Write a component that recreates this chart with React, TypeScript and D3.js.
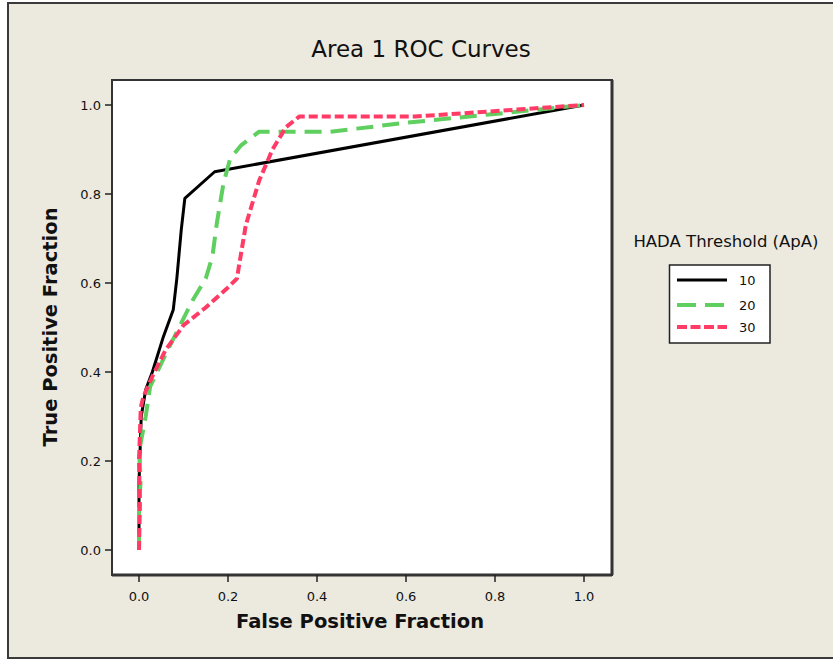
import React from "react";
import * as d3 from "d3";

const seriesNames = ["10", "20", "30"];
const colors = ["#000000", "#5fcf5f", "#ff3b66"];
const dashes = ["none", "17,9", "9,4"];
const widths = [3, 4, 4];

const fpr10 = [0, 0.0, 0.005, 0.015, 0.03, 0.055, 0.077, 0.085, 0.095, 0.103, 0.17, 1];
const tpr10 = [0.02, 0.15, 0.3, 0.36, 0.4, 0.48, 0.54, 0.61, 0.72, 0.79, 0.85, 1];

const fpr20 = [0, 0.0, 0.004, 0.0, 0.015, 0.025, 0.06, 0.09, 0.12, 0.15, 0.165, 0.175, 0.19, 0.205, 0.23, 0.27, 0.43, 0.6, 0.8, 1];
const tpr20 = [0, 0.1, 0.16, 0.22, 0.3, 0.367, 0.44, 0.5, 0.56, 0.61, 0.66, 0.735, 0.825, 0.88, 0.91, 0.94, 0.94, 0.96, 0.98, 1];

const fpr30 = [0, 0.002, 0.0, 0.004, 0.01, 0.03, 0.06, 0.1, 0.15, 0.2, 0.22, 0.24, 0.27, 0.3, 0.33, 0.36, 0.62, 1];
const tpr30 = [0, 0.1, 0.2, 0.32, 0.345, 0.39, 0.45, 0.505, 0.545, 0.59, 0.61, 0.73, 0.83, 0.9, 0.95, 0.974, 0.974, 1];

const xTicks = [0, 0.2, 0.4, 0.6, 0.8, 1.0];
const yTicks = [0, 0.2, 0.4, 0.6, 0.8, 1.0];

const title = "Area 1 ROC Curves";
const xLabel = "False Positive Fraction";
const yLabel = "True Positive Fraction";
const legendTitle = "HADA Threshold (ApA)";

export default function App() {
  const x = d3.scaleLinear().domain([0, 1]).range([139, 584]);
  const y = d3.scaleLinear().domain([0, 1]).range([550, 105]);
  const plot = { x0: 112, y0: 80, x1: 612, y1: 575 };
  const series = [
    fpr10.map((v, i) => [v, tpr10[i]]),
    fpr20.map((v, i) => [v, tpr20[i]]),
    fpr30.map((v, i) => [v, tpr30[i]]),
  ] as [number, number][][];
  const line = d3.line<[number, number]>().x((d) => x(d[0])).y((d) => y(d[1]));
  const font = "'DejaVu Sans', Tahoma, sans-serif";
  const fmt = d3.format(".1f");
  const legendYs = [280, 305, 327];

  return (
    <svg
      width={833}
      height={660}
      style={{ position: "absolute", left: 0, top: 0, background: "#ffffff" }}
      fontFamily={font}
    >
      <rect x={8} y={3} width={840} height={655} fill="#ece9df" stroke="#3a3a3a" strokeWidth={2} />
      <rect x={plot.x0} y={plot.y0} width={plot.x1 - plot.x0} height={plot.y1 - plot.y0} fill="#ffffff" stroke="#333" strokeWidth={2} />
      <line x1={plot.x1} x2={plot.x1} y1={plot.y0} y2={plot.y1} stroke="#333" strokeWidth={3} />
      <line x1={plot.x0} x2={plot.x1} y1={plot.y1} y2={plot.y1} stroke="#333" strokeWidth={3} />
      <text x={421} y={57} textAnchor="middle" fontSize={23} fill="#111">{title}</text>
      {xTicks.map((t) => (
        <g key={"x" + t}>
          <line x1={x(t)} x2={x(t)} y1={plot.y1} y2={plot.y1 + 7} stroke="#222" strokeWidth={1.5} />
          <text x={x(t)} y={601} textAnchor="middle" fontSize={13} fill="#111">{fmt(t)}</text>
        </g>
      ))}
      {yTicks.map((t) => (
        <g key={"y" + t}>
          <line x1={plot.x0} x2={plot.x0 - 7} y1={y(t)} y2={y(t)} stroke="#222" strokeWidth={1.5} />
          <text x={101} y={y(t) + 5} textAnchor="end" fontSize={13} fill="#111">{fmt(t)}</text>
        </g>
      ))}
      <text x={360} y={628} textAnchor="middle" fontSize={19.5} fontWeight="bold" fill="#111">{xLabel}</text>
      <text transform={`translate(57,327) rotate(-90)`} textAnchor="middle" fontSize={19.5} fontWeight="bold" fill="#111">{yLabel}</text>
      <g>
        {series.map((s, i) => (
          <path key={i} d={line(s) || ""} fill="none" stroke={colors[i]} strokeWidth={widths[i]} strokeDasharray={dashes[i]} strokeLinejoin="round" />
        ))}
      </g>
      <text x={726} y={247} textAnchor="middle" fontSize={16.5} fill="#111">{legendTitle}</text>
      <rect x={669.5} y={265} width={100.5} height={78} fill="#ffffff" stroke="#222" strokeWidth={1.5} />
      {seriesNames.map((n, i) => (
        <g key={n}>
          <line x1={677} x2={727} y1={legendYs[i]} y2={legendYs[i]} stroke={colors[i]} strokeWidth={widths[i]} strokeDasharray={dashes[i] === "none" ? "none" : i === 1 ? "19,9" : "10,3.5"} />
          <text x={739} y={legendYs[i] + 5} fontSize={13} fill="#111">{n}</text>
        </g>
      ))}
    </svg>
  );
}
